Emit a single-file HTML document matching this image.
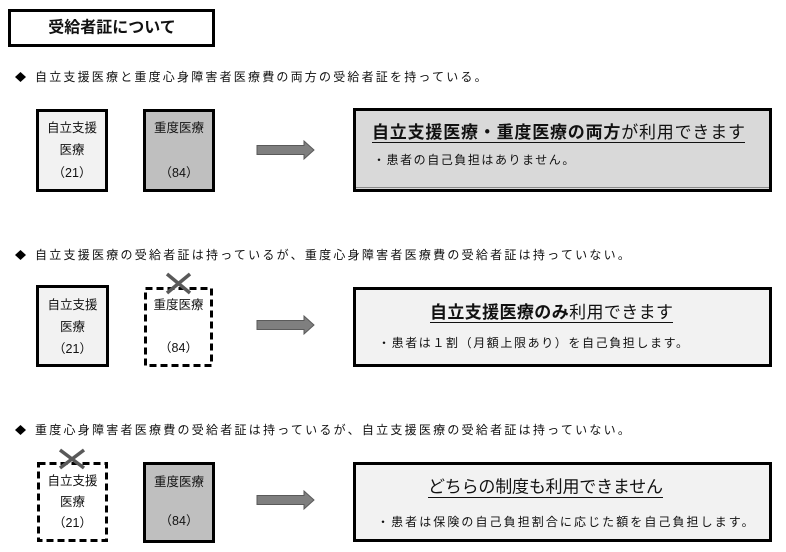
<!DOCTYPE html>
<html lang="ja">
<head>
<meta charset="utf-8">
<style>
  html,body{margin:0;padding:0;background:#fff;}
  body{width:786px;height:552px;overflow:hidden;}
  svg{display:block;}
  text{font-family:"Liberation Sans","Noto Sans CJK JP",sans-serif;fill:#111;}
</style>
</head>
<body>
<svg width="786" height="552" viewBox="0 0 786 552" xmlns="http://www.w3.org/2000/svg">
  <!-- Title -->
  <rect x="9.5" y="10.5" width="204" height="35" fill="#fff" stroke="#000" stroke-width="3"/>
  <text x="112" y="28" font-size="16" font-weight="bold" text-anchor="middle" dominant-baseline="central">受給者証について</text>

  <!-- Bullet 1 -->
  <polygon points="20.5,72 26,77 20.5,82 15,77" fill="#000"/>
  <text x="35" y="77" font-size="12" letter-spacing="2.2" dominant-baseline="central">自立支援医療と重度心身障害者医療費の両方の受給者証を持っている。</text>

  <!-- Row 1 boxes -->
  <rect x="37.5" y="110.5" width="69" height="80" fill="#f2f2f2" stroke="#000" stroke-width="3"/>
  <text x="72" y="128" font-size="12.5" text-anchor="middle" dominant-baseline="central">自立支援</text>
  <text x="72" y="150" font-size="12.5" text-anchor="middle" dominant-baseline="central">医療</text>
  <text x="72" y="173" font-size="12.5" text-anchor="middle" dominant-baseline="central">（21）</text>

  <rect x="144.5" y="110.5" width="69" height="80" fill="#bfbfbf" stroke="#000" stroke-width="3"/>
  <text x="179" y="128" font-size="12.5" text-anchor="middle" dominant-baseline="central">重度医療</text>
  <text x="179" y="173" font-size="12.5" text-anchor="middle" dominant-baseline="central">（84）</text>

  <polygon points="257,145.5 304,145.5 304,141 314,150 304,159 304,154.5 257,154.5" fill="#7f7f7f" stroke="#5a5a5a" stroke-width="1"/>

  <rect x="354.5" y="109.5" width="416" height="81" fill="#d9d9d9" stroke="#000" stroke-width="3"/>
  <line x1="356" y1="187.5" x2="769" y2="187.5" stroke="#8a8a8a" stroke-width="1"/>
  <text x="372" y="132" font-size="17" textLength="373" lengthAdjust="spacing" dominant-baseline="central"><tspan font-weight="bold">自立支援医療・重度医療の両方</tspan><tspan>が利用できます</tspan></text>
  <line x1="372" y1="142.5" x2="745" y2="142.5" stroke="#111" stroke-width="1"/>
  <text x="373" y="160" font-size="12" letter-spacing="1.55" dominant-baseline="central">・患者の自己負担はありません。</text>

  <!-- Bullet 2 -->
  <polygon points="20.5,250 26,255 20.5,260 15,255" fill="#000"/>
  <text x="35" y="255" font-size="12" letter-spacing="2.25" dominant-baseline="central">自立支援医療の受給者証は持っているが、重度心身障害者医療費の受給者証は持っていない。</text>

  <!-- Row 2 boxes -->
  <rect x="37.5" y="286.5" width="70" height="79" fill="#f2f2f2" stroke="#000" stroke-width="3"/>
  <text x="72.5" y="305" font-size="12.5" text-anchor="middle" dominant-baseline="central">自立支援</text>
  <text x="72.5" y="327" font-size="12.5" text-anchor="middle" dominant-baseline="central">医療</text>
  <text x="72.5" y="349" font-size="12.5" text-anchor="middle" dominant-baseline="central">（21）</text>

  <rect x="145.5" y="288.5" width="66" height="77" fill="#fff" stroke="#000" stroke-width="3" stroke-dasharray="7 4"/>
  <text x="178.5" y="305" font-size="12.5" text-anchor="middle" dominant-baseline="central">重度医療</text>
  <text x="178.5" y="348" font-size="12.5" text-anchor="middle" dominant-baseline="central">（84）</text>
  <line x1="167" y1="274" x2="190" y2="293" stroke="#595959" stroke-width="3.5"/>
  <line x1="190" y1="274" x2="167" y2="293" stroke="#595959" stroke-width="3.5"/>

  <polygon points="257,320.5 304,320.5 304,316 314,325 304,334 304,329.5 257,329.5" fill="#7f7f7f" stroke="#5a5a5a" stroke-width="1"/>

  <rect x="354.5" y="288.5" width="416" height="77" fill="#f2f2f2" stroke="#000" stroke-width="3"/>
  <text x="430" y="312" font-size="17" textLength="243" lengthAdjust="spacing" dominant-baseline="central"><tspan font-weight="bold">自立支援医療のみ</tspan><tspan>利用できます</tspan></text>
  <line x1="430" y1="322.5" x2="673" y2="322.5" stroke="#111" stroke-width="1"/>
  <text x="378" y="343" font-size="12" letter-spacing="1.6" dominant-baseline="central">・患者は１割（月額上限あり）を自己負担します。</text>

  <!-- Bullet 3 -->
  <polygon points="20.5,425 26,430 20.5,435 15,430" fill="#000"/>
  <text x="35" y="430" font-size="12" letter-spacing="2.25" dominant-baseline="central">重度心身障害者医療費の受給者証は持っているが、自立支援医療の受給者証は持っていない。</text>

  <!-- Row 3 boxes -->
  <rect x="38.5" y="463.5" width="68" height="77" fill="#fff" stroke="#000" stroke-width="3" stroke-dasharray="7 4"/>
  <text x="72.5" y="481" font-size="12.5" text-anchor="middle" dominant-baseline="central">自立支援</text>
  <text x="72.5" y="502" font-size="12.5" text-anchor="middle" dominant-baseline="central">医療</text>
  <text x="72.5" y="523" font-size="12.5" text-anchor="middle" dominant-baseline="central">（21）</text>
  <line x1="60" y1="450" x2="84" y2="468" stroke="#595959" stroke-width="3.5"/>
  <line x1="84" y1="450" x2="60" y2="468" stroke="#595959" stroke-width="3.5"/>

  <rect x="144.5" y="463.5" width="69" height="78" fill="#bfbfbf" stroke="#000" stroke-width="3"/>
  <text x="179" y="482" font-size="12.5" text-anchor="middle" dominant-baseline="central">重度医療</text>
  <text x="179" y="521" font-size="12.5" text-anchor="middle" dominant-baseline="central">（84）</text>

  <polygon points="257,495.5 304,495.5 304,491 314,500 304,509 304,504.5 257,504.5" fill="#7f7f7f" stroke="#5a5a5a" stroke-width="1"/>

  <rect x="354.5" y="463.5" width="416" height="77" fill="#f2f2f2" stroke="#000" stroke-width="3"/>
  <text x="428" y="487" font-size="17" textLength="235" lengthAdjust="spacing" dominant-baseline="central">どちらの制度も利用できません</text>
  <line x1="428" y1="497.5" x2="663" y2="497.5" stroke="#111" stroke-width="1"/>
  <text x="377" y="522" font-size="12" letter-spacing="2.07" dominant-baseline="central">・患者は保険の自己負担割合に応じた額を自己負担します。</text>
</svg>
</body>
</html>
